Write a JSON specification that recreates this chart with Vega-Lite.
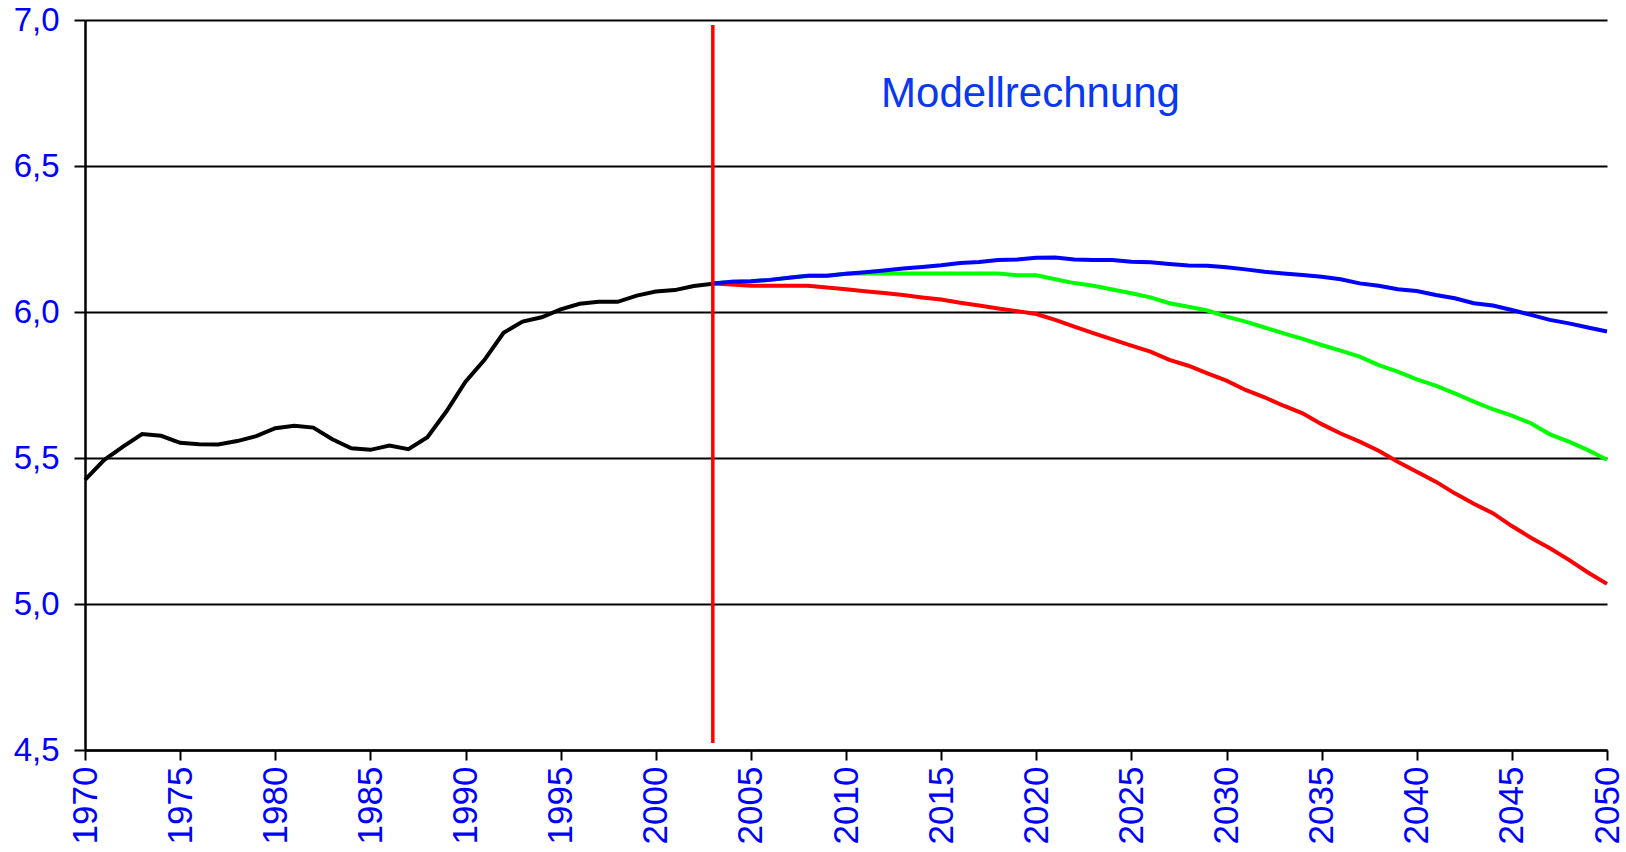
{
  "$schema": "https://vega.github.io/schema/vega-lite/v6.json",
  "width": 1522,
  "height": 730,
  "autosize": {"type": "none"},
  "padding": {"left": 85, "top": 20, "right": 19, "bottom": 102},
  "background": "white",
  "config": {"view": {"stroke": null}},
  "datasets": {
    "lines": [
      {"series": "Ist", "year": 1970, "value": 5.425}, {"series": "Ist", "year": 1971, "value": 5.493}, {"series": "Ist", "year": 1972, "value": 5.539}, {"series": "Ist", "year": 1973, "value": 5.582}, {"series": "Ist", "year": 1974, "value": 5.576}, {"series": "Ist", "year": 1975, "value": 5.552}, {"series": "Ist", "year": 1976, "value": 5.547}, {"series": "Ist", "year": 1977, "value": 5.546}, {"series": "Ist", "year": 1978, "value": 5.558}, {"series": "Ist", "year": 1979, "value": 5.575}, {"series": "Ist", "year": 1980, "value": 5.602}, {"series": "Ist", "year": 1981, "value": 5.61}, {"series": "Ist", "year": 1982, "value": 5.604}, {"series": "Ist", "year": 1983, "value": 5.564}, {"series": "Ist", "year": 1984, "value": 5.533}, {"series": "Ist", "year": 1985, "value": 5.528}, {"series": "Ist", "year": 1986, "value": 5.543}, {"series": "Ist", "year": 1987, "value": 5.53}, {"series": "Ist", "year": 1988, "value": 5.571}, {"series": "Ist", "year": 1989, "value": 5.66}, {"series": "Ist", "year": 1990, "value": 5.761}, {"series": "Ist", "year": 1991, "value": 5.836}, {"series": "Ist", "year": 1992, "value": 5.929}, {"series": "Ist", "year": 1993, "value": 5.967}, {"series": "Ist", "year": 1994, "value": 5.982}, {"series": "Ist", "year": 1995, "value": 6.009}, {"series": "Ist", "year": 1996, "value": 6.028}, {"series": "Ist", "year": 1997, "value": 6.035}, {"series": "Ist", "year": 1998, "value": 6.035}, {"series": "Ist", "year": 1999, "value": 6.056}, {"series": "Ist", "year": 2000, "value": 6.07}, {"series": "Ist", "year": 2001, "value": 6.075}, {"series": "Ist", "year": 2002, "value": 6.089}, {"series": "Ist", "year": 2003, "value": 6.097},

      {"series": "Gruen", "year": 2003, "value": 6.098}, {"series": "Gruen", "year": 2004, "value": 6.104}, {"series": "Gruen", "year": 2005, "value": 6.105}, {"series": "Gruen", "year": 2006, "value": 6.11}, {"series": "Gruen", "year": 2007, "value": 6.117}, {"series": "Gruen", "year": 2008, "value": 6.124}, {"series": "Gruen", "year": 2009, "value": 6.124}, {"series": "Gruen", "year": 2010, "value": 6.131}, {"series": "Gruen", "year": 2011, "value": 6.132}, {"series": "Gruen", "year": 2012, "value": 6.132}, {"series": "Gruen", "year": 2013, "value": 6.132}, {"series": "Gruen", "year": 2014, "value": 6.132}, {"series": "Gruen", "year": 2015, "value": 6.132}, {"series": "Gruen", "year": 2016, "value": 6.132}, {"series": "Gruen", "year": 2017, "value": 6.132}, {"series": "Gruen", "year": 2018, "value": 6.132}, {"series": "Gruen", "year": 2019, "value": 6.126}, {"series": "Gruen", "year": 2020, "value": 6.126}, {"series": "Gruen", "year": 2021, "value": 6.112}, {"series": "Gruen", "year": 2022, "value": 6.099}, {"series": "Gruen", "year": 2023, "value": 6.09}, {"series": "Gruen", "year": 2024, "value": 6.077}, {"series": "Gruen", "year": 2025, "value": 6.064}, {"series": "Gruen", "year": 2026, "value": 6.05}, {"series": "Gruen", "year": 2027, "value": 6.03}, {"series": "Gruen", "year": 2028, "value": 6.018}, {"series": "Gruen", "year": 2029, "value": 6.005}, {"series": "Gruen", "year": 2030, "value": 5.984}, {"series": "Gruen", "year": 2031, "value": 5.967}, {"series": "Gruen", "year": 2032, "value": 5.947}, {"series": "Gruen", "year": 2033, "value": 5.927}, {"series": "Gruen", "year": 2034, "value": 5.908}, {"series": "Gruen", "year": 2035, "value": 5.887}, {"series": "Gruen", "year": 2036, "value": 5.868}, {"series": "Gruen", "year": 2037, "value": 5.847}, {"series": "Gruen", "year": 2038, "value": 5.818}, {"series": "Gruen", "year": 2039, "value": 5.796}, {"series": "Gruen", "year": 2040, "value": 5.769}, {"series": "Gruen", "year": 2041, "value": 5.748}, {"series": "Gruen", "year": 2042, "value": 5.721}, {"series": "Gruen", "year": 2043, "value": 5.693}, {"series": "Gruen", "year": 2044, "value": 5.667}, {"series": "Gruen", "year": 2045, "value": 5.645}, {"series": "Gruen", "year": 2046, "value": 5.619}, {"series": "Gruen", "year": 2047, "value": 5.581}, {"series": "Gruen", "year": 2048, "value": 5.556}, {"series": "Gruen", "year": 2049, "value": 5.527}, {"series": "Gruen", "year": 2050, "value": 5.494},

      {"series": "Rot", "year": 2003, "value": 6.098}, {"series": "Rot", "year": 2004, "value": 6.094}, {"series": "Rot", "year": 2005, "value": 6.09}, {"series": "Rot", "year": 2006, "value": 6.09}, {"series": "Rot", "year": 2007, "value": 6.09}, {"series": "Rot", "year": 2008, "value": 6.09}, {"series": "Rot", "year": 2009, "value": 6.084}, {"series": "Rot", "year": 2010, "value": 6.078}, {"series": "Rot", "year": 2011, "value": 6.071}, {"series": "Rot", "year": 2012, "value": 6.065}, {"series": "Rot", "year": 2013, "value": 6.058}, {"series": "Rot", "year": 2014, "value": 6.05}, {"series": "Rot", "year": 2015, "value": 6.043}, {"series": "Rot", "year": 2016, "value": 6.032}, {"series": "Rot", "year": 2017, "value": 6.022}, {"series": "Rot", "year": 2018, "value": 6.012}, {"series": "Rot", "year": 2019, "value": 6.003}, {"series": "Rot", "year": 2020, "value": 5.993}, {"series": "Rot", "year": 2021, "value": 5.973}, {"series": "Rot", "year": 2022, "value": 5.95}, {"series": "Rot", "year": 2023, "value": 5.928}, {"series": "Rot", "year": 2024, "value": 5.906}, {"series": "Rot", "year": 2025, "value": 5.885}, {"series": "Rot", "year": 2026, "value": 5.864}, {"series": "Rot", "year": 2027, "value": 5.836}, {"series": "Rot", "year": 2028, "value": 5.816}, {"series": "Rot", "year": 2029, "value": 5.79}, {"series": "Rot", "year": 2030, "value": 5.765}, {"series": "Rot", "year": 2031, "value": 5.733}, {"series": "Rot", "year": 2032, "value": 5.708}, {"series": "Rot", "year": 2033, "value": 5.679}, {"series": "Rot", "year": 2034, "value": 5.653}, {"series": "Rot", "year": 2035, "value": 5.616}, {"series": "Rot", "year": 2036, "value": 5.584}, {"series": "Rot", "year": 2037, "value": 5.556}, {"series": "Rot", "year": 2038, "value": 5.525}, {"series": "Rot", "year": 2039, "value": 5.487}, {"series": "Rot", "year": 2040, "value": 5.453}, {"series": "Rot", "year": 2041, "value": 5.419}, {"series": "Rot", "year": 2042, "value": 5.379}, {"series": "Rot", "year": 2043, "value": 5.343}, {"series": "Rot", "year": 2044, "value": 5.311}, {"series": "Rot", "year": 2045, "value": 5.267}, {"series": "Rot", "year": 2046, "value": 5.227}, {"series": "Rot", "year": 2047, "value": 5.191}, {"series": "Rot", "year": 2048, "value": 5.151}, {"series": "Rot", "year": 2049, "value": 5.108}, {"series": "Rot", "year": 2050, "value": 5.069},

      {"series": "Blau", "year": 2003, "value": 6.098}, {"series": "Blau", "year": 2004, "value": 6.104}, {"series": "Blau", "year": 2005, "value": 6.105}, {"series": "Blau", "year": 2006, "value": 6.11}, {"series": "Blau", "year": 2007, "value": 6.117}, {"series": "Blau", "year": 2008, "value": 6.124}, {"series": "Blau", "year": 2009, "value": 6.124}, {"series": "Blau", "year": 2010, "value": 6.131}, {"series": "Blau", "year": 2011, "value": 6.136}, {"series": "Blau", "year": 2012, "value": 6.142}, {"series": "Blau", "year": 2013, "value": 6.149}, {"series": "Blau", "year": 2014, "value": 6.154}, {"series": "Blau", "year": 2015, "value": 6.16}, {"series": "Blau", "year": 2016, "value": 6.168}, {"series": "Blau", "year": 2017, "value": 6.171}, {"series": "Blau", "year": 2018, "value": 6.178}, {"series": "Blau", "year": 2019, "value": 6.18}, {"series": "Blau", "year": 2020, "value": 6.186}, {"series": "Blau", "year": 2021, "value": 6.187}, {"series": "Blau", "year": 2022, "value": 6.18}, {"series": "Blau", "year": 2023, "value": 6.178}, {"series": "Blau", "year": 2024, "value": 6.178}, {"series": "Blau", "year": 2025, "value": 6.172}, {"series": "Blau", "year": 2026, "value": 6.17}, {"series": "Blau", "year": 2027, "value": 6.164}, {"series": "Blau", "year": 2028, "value": 6.159}, {"series": "Blau", "year": 2029, "value": 6.158}, {"series": "Blau", "year": 2030, "value": 6.153}, {"series": "Blau", "year": 2031, "value": 6.146}, {"series": "Blau", "year": 2032, "value": 6.138}, {"series": "Blau", "year": 2033, "value": 6.132}, {"series": "Blau", "year": 2034, "value": 6.127}, {"series": "Blau", "year": 2035, "value": 6.121}, {"series": "Blau", "year": 2036, "value": 6.112}, {"series": "Blau", "year": 2037, "value": 6.098}, {"series": "Blau", "year": 2038, "value": 6.09}, {"series": "Blau", "year": 2039, "value": 6.078}, {"series": "Blau", "year": 2040, "value": 6.072}, {"series": "Blau", "year": 2041, "value": 6.058}, {"series": "Blau", "year": 2042, "value": 6.047}, {"series": "Blau", "year": 2043, "value": 6.03}, {"series": "Blau", "year": 2044, "value": 6.022}, {"series": "Blau", "year": 2045, "value": 6.007}, {"series": "Blau", "year": 2046, "value": 5.99}, {"series": "Blau", "year": 2047, "value": 5.973}, {"series": "Blau", "year": 2048, "value": 5.961}, {"series": "Blau", "year": 2049, "value": 5.947}, {"series": "Blau", "year": 2050, "value": 5.933}
    ],
    "marker": [{"year": 2003, "low": 4.524, "high": 6.983}],
    "note": [{"year": 2019.7, "value": 6.702, "label": "Modellrechnung"}]
  },
  "layer": [
    {
      "data": {"name": "lines"},
      "transform": [{"filter": "datum.series === 'Ist'"}],
      "mark": {"type": "line", "color": "#000000", "strokeWidth": 4},
      "encoding": {
        "x": {
          "field": "year", "type": "quantitative",
          "scale": {"domain": [1970, 2050], "nice": false, "zero": false},
          "axis": {
            "title": null,
            "values": [1970, 1975, 1980, 1985, 1990, 1995, 2000, 2005, 2010, 2015, 2020, 2025, 2030, 2035, 2040, 2045, 2050],
            "format": "d",
            "labelAngle": -90,
            "labelAlign": "right",
            "labelBaseline": "middle",
            "labelFont": "Liberation Sans",
            "labelFontSize": 35,
            "labelColor": "#0000ff",
            "labelPadding": 6,
            "labelOverlap": false,
            "labelFlush": false,
            "grid": false,
            "domainColor": "#000000",
            "domainWidth": 2.5,
            "tickColor": "#000000",
            "tickWidth": 2,
            "tickSize": 10
          }
        },
        "y": {
          "field": "value", "type": "quantitative",
          "scale": {"domain": [4.5, 7.0], "nice": false, "zero": false},
          "axis": {
            "title": null,
            "values": [4.5, 5.0, 5.5, 6.0, 6.5, 7.0],
            "labelExpr": "replace(format(datum.value, '.1f'), '.', ',')",
            "labelFont": "Liberation Sans",
            "labelFontSize": 33,
            "labelColor": "#0000ff",
            "labelPadding": 15,
            "labelFlush": false,
            "labelOverlap": false,
            "grid": true,
            "gridColor": "#000000",
            "gridWidth": 2,
            "gridOpacity": 1,
            "domainColor": "#000000",
            "domainWidth": 2.5,
            "tickColor": "#000000",
            "tickWidth": 2,
            "tickSize": 11
          }
        }
      }
    },
    {
      "data": {"name": "lines"},
      "transform": [{"filter": "datum.series === 'Gruen'"}],
      "mark": {"type": "line", "color": "#00ff00", "strokeWidth": 4},
      "encoding": {
        "x": {"field": "year", "type": "quantitative"},
        "y": {"field": "value", "type": "quantitative"}
      }
    },
    {
      "data": {"name": "lines"},
      "transform": [{"filter": "datum.series === 'Rot'"}],
      "mark": {"type": "line", "color": "#ff0000", "strokeWidth": 4},
      "encoding": {
        "x": {"field": "year", "type": "quantitative"},
        "y": {"field": "value", "type": "quantitative"}
      }
    },
    {
      "data": {"name": "lines"},
      "transform": [{"filter": "datum.series === 'Blau'"}],
      "mark": {"type": "line", "color": "#0000ff", "strokeWidth": 4},
      "encoding": {
        "x": {"field": "year", "type": "quantitative"},
        "y": {"field": "value", "type": "quantitative"}
      }
    },
    {
      "data": {"name": "marker"},
      "mark": {"type": "rule", "color": "#ff0000", "strokeWidth": 3.5},
      "encoding": {
        "x": {"field": "year", "type": "quantitative"},
        "y": {"field": "low", "type": "quantitative"},
        "y2": {"field": "high"}
      }
    },
    {
      "data": {"name": "note"},
      "mark": {"type": "text", "font": "Liberation Sans", "fontSize": 42, "color": "#0838f0", "align": "center", "baseline": "alphabetic"},
      "encoding": {
        "x": {"field": "year", "type": "quantitative"},
        "y": {"field": "value", "type": "quantitative"},
        "text": {"field": "label"}
      }
    }
  ]
}
